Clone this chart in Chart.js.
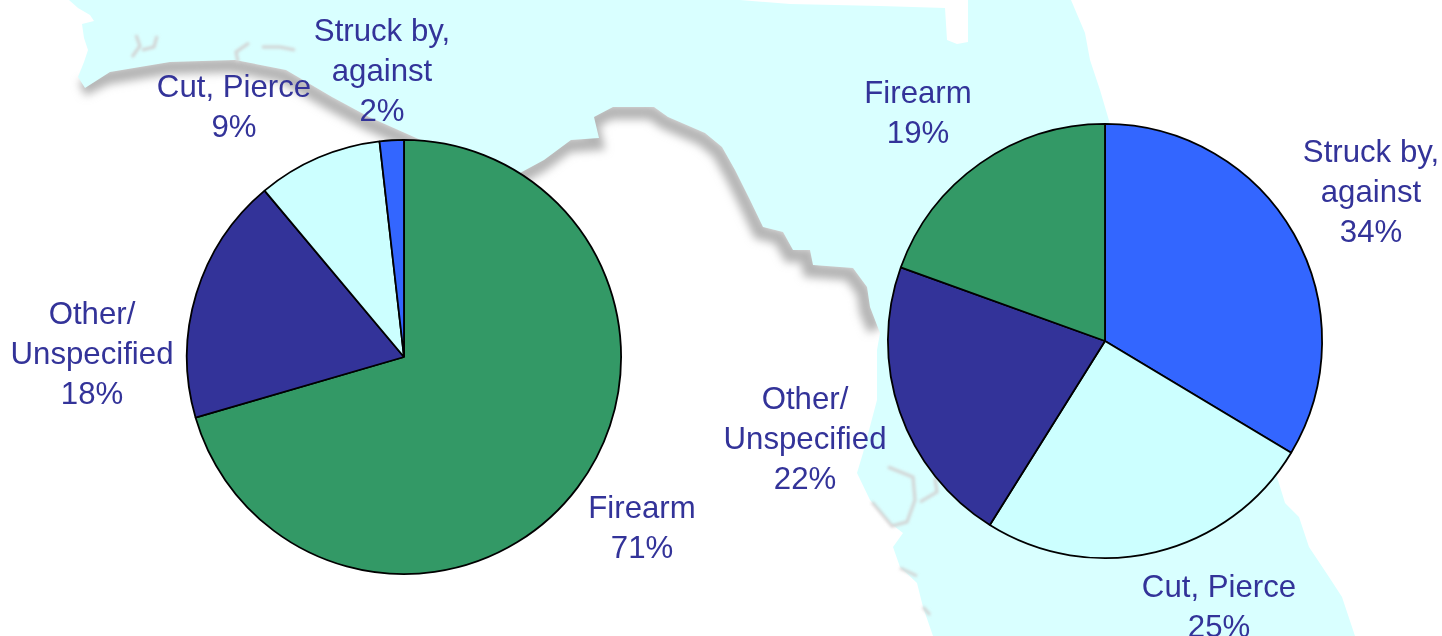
<!DOCTYPE html>
<html>
<head>
<meta charset="utf-8">
<script src="https://cdn.jsdelivr.net/npm/chart.js@4"></script>
<style>
html, body { margin: 0; padding: 0; background: #fff; overflow: hidden; }
#wrap { position: relative; width: 1442px; height: 636px; }
#map { position: absolute; left: 0; top: 0; }
.pane { position: absolute; top: 0; width: 721px; height: 636px; }
#paneLeft { left: 0; }
#paneRight { left: 721px; }
</style>
</head>
<body>
<div id="wrap">
  <!-- backdrop: rough outline of the state, not data -->
  <svg id="map" width="1442" height="636" viewBox="0 0 1442 636">
    <defs>
      <filter id="soft" x="-10%" y="-20%" width="120%" height="140%"><feGaussianBlur stdDeviation="4.5"/></filter>
      <filter id="soft2" x="-20%" y="-20%" width="140%" height="140%"><feGaussianBlur stdDeviation="1.4"/></filter>
    </defs>
    <polyline filter="url(#soft)" transform="translate(-3,5)" fill="none" stroke="#b4b4b4" stroke-width="15"
      points="85,84 110,72 170,62 235,60 286,70 332,97 369,117 405,133 470,162 520,173 544,160 571,140 599,138 594,117 613,107 654,107 668,117 705,133 722,147 735,170 750,200 763,227 783,232 793,250 810,250 813,265 853,268 867,287 870,307 878,325"/>
    <polygon fill="#d9ffff" points="69,0 78,8 90,15 94,21 82,24 84,38 88,50 84,62 78,77 85,88 110,72 170,62 235,60 286,70 332,97 369,117 405,133 470,162 520,173 544,160 571,140 599,138 594,117 613,107 654,107 668,117 705,133 722,147 735,170 750,200 763,227 783,232 793,250 810,250 813,265 853,268 867,287 870,307 880,333 877,350 877,400 863,453 857,473 870,500 890,523 903,533 893,547 900,567 917,583 923,607 933,636 1355,636 1342,597 1329,577 1309,547 1299,517 1285,503 1277,477 1110,124 1100,90 1090,60 1085,33 1071,0 968,0 968,42 957,44 947,40 945,8 880,6 790,4 740,0"/>
    <g filter="url(#soft2)" fill="none" stroke="#d2d2d2" stroke-width="3">
      <polyline points="136,35 140,46 132,57"/>
      <polyline points="157,36 154,47 142,50"/>
      <polyline points="249,43 236,52 238,62"/>
      <polyline points="262,47 280,47 295,50"/>
      <polyline points="888,467 913,477 915,500 907,522 892,526 872,502"/>
      <polyline points="935,478 937,492 920,502"/>
      <polyline points="900,568 917,576"/>
      <polyline points="923,607 930,615"/>
    </g>
  </svg>
  <div class="pane" id="paneLeft"><canvas id="pieLeft"></canvas></div>
  <div class="pane" id="paneRight"><canvas id="pieRight"></canvas></div>
</div>
<script>
// left pie
const categoriesLeft = ['Firearm', 'Other/Unspecified', 'Cut, Pierce', 'Struck by, against'];
const valuesLeft = [70.5, 18.4, 9.3, 1.8];
const printedLeft = [71, 18, 9, 2];          // as printed beside the slices
// right pie
const categoriesRight = ['Struck by, against', 'Cut, Pierce', 'Other/Unspecified', 'Firearm'];
const valuesRight = [33.6, 25.3, 21.6, 19.5];
const printedRight = [34, 25, 22, 19];

// how each category name wraps on the chart
const labelLines = {
    'Firearm': ['Firearm'],
    'Other/Unspecified': ['Other/', 'Unspecified'],
    'Cut, Pierce': ['Cut, Pierce'],
    'Struck by, against': ['Struck by,', 'against']
};

const sliceColors = {
    'Firearm': '#339966',
    'Other/Unspecified': '#333399',
    'Cut, Pierce': '#ccffff',
    'Struck by, against': '#3366ff'
};

// centre of each label's first line, in canvas pixels
const labelSpotsLeft = [[642, 509], [92, 315], [234, 88], [382, 32]];
const labelSpotsRight = [[650, 153], [498, 588], [84, 400], [197, 94]];

const pieLabels = {
    id: 'pieLabels',
    afterDraw(chart, args, opts) {
        const ctx = chart.ctx;
        ctx.save();
        ctx.font = '31.2px "Liberation Sans", Arial, sans-serif';
        ctx.fillStyle = '#333399';
        ctx.textAlign = 'center';
        ctx.textBaseline = 'middle';
        chart.data.labels.forEach((name, i) => {
            const lines = labelLines[name].concat(opts.printed[i] + '%');
            lines.forEach((line, k) => {
                ctx.fillText(line, opts.spots[i][0], opts.spots[i][1] + k * 40);
            });
        });
        ctx.restore();
    }
};

function makePie(id, labels, values, printed, spots, padding) {
    return new Chart(document.getElementById(id).getContext('2d'), {
        type: 'pie',
        data: {
            labels: labels,
            datasets: [{
                data: values,
                backgroundColor: labels.map(n => sliceColors[n]),
                borderColor: '#000000',
                borderWidth: 1.8
            }]
        },
        options: {
            responsive: true,
            maintainAspectRatio: false,
            animation: false,
            layout: { padding: padding },
            plugins: {
                legend: { display: false },
                tooltip: { enabled: false },
                pieLabels: { spots: spots, printed: printed }
            }
        },
        plugins: [pieLabels]
    });
}

makePie('pieLeft', categoriesLeft, valuesLeft, printedLeft, labelSpotsLeft, { left: 186, right: 99, top: 139, bottom: 61 });
makePie('pieRight', categoriesRight, valuesRight, printedRight, labelSpotsRight, { left: 166, right: 119, top: 123, bottom: 77 });
</script>
</body>
</html>
